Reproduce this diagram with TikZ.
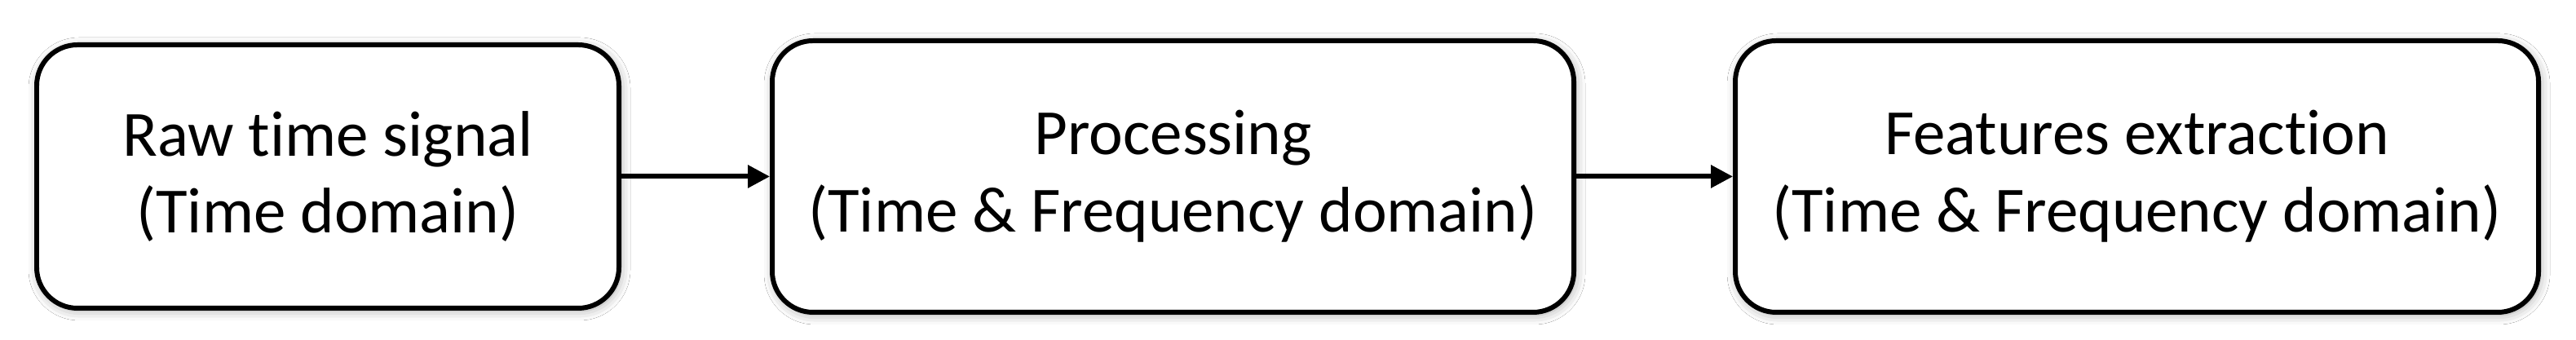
\documentclass[tikz,border=0pt]{standalone}
\usepackage{fontspec}
\setmainfont{Carlito}[Ligatures=NoCommon]
\usepackage{tikz}
\usetikzlibrary{positioning,arrows.meta,shadows.blur}

\begin{document}
\begin{tikzpicture}[
  stage/.style={rectangle,rounded corners=0.5cm,draw=black,line width=1.7pt,
    fill=white,align=center,inner sep=0pt,
    font=\fontsize{22.5pt}{27pt}\selectfont,
    blur shadow={shadow xshift=0.02cm,shadow yshift=-0.03cm,shadow blur radius=0.12cm,shadow opacity=35}},
  flow/.style={-{Triangle[length=0.27cm,width=0.27cm]},line width=1.7pt}]
\useasboundingbox[fill=white] (0,0) rectangle (31.59,4.17);
\node[stage,minimum width=7.14cm,minimum height=3.23cm] (raw) at (4.02,2.005)
  {Raw time signal\\(Time domain)};
\node[stage,minimum width=9.83cm,minimum height=3.33cm] (proc) at (14.385,2.005)
  {Processing\\(Time \& Frequency domain)};
\node[stage,minimum width=9.85cm,minimum height=3.33cm] (feat) at (26.205,2.005)
  {Features extraction\\(Time \& Frequency domain)};
\draw[flow] (raw) -- (proc);
\draw[flow] (proc) -- (feat);
\end{tikzpicture}
\end{document}
